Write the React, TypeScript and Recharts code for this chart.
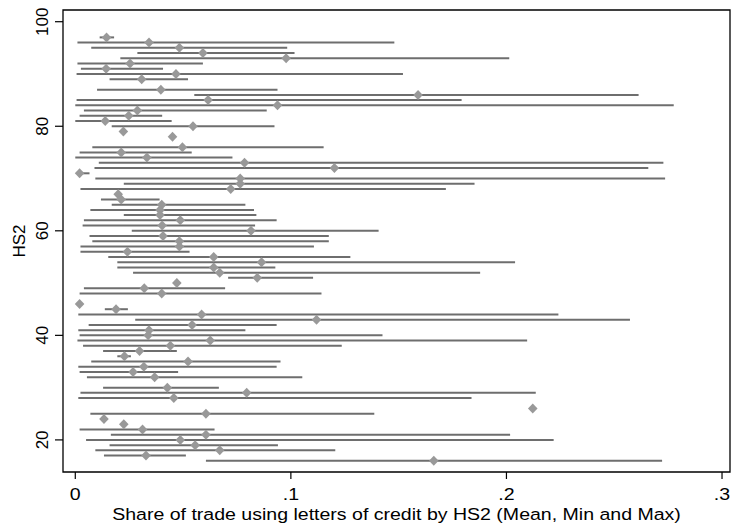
import React from 'react';
import { ScatterChart, Scatter, XAxis, YAxis, ErrorBar, ReferenceArea } from 'recharts';

// HS2 chapters shown, top to bottom (88, 77, 47, 31, 27 have no row)
const hsCodes = [
  97, 96, 95, 94, 93, 92, 91, 90, 89, 87,
  86, 85, 84, 83, 82, 81, 80, 79, 78, 76,
  75, 74, 73, 72, 71, 70, 69, 68, 67, 66,
  65, 64, 63, 62, 61, 60, 59, 58, 57, 56,
  55, 54, 53, 52, 51, 50, 49, 48, 46, 45,
  44, 43, 42, 41, 40, 39, 38, 37, 36, 35,
  34, 33, 32, 30, 29, 28, 26, 25, 24, 23,
  22, 21, 20, 19, 18, 17, 16,
];

const minShare = [
  0.0113, 0.001, 0.0074, 0.0288, 0.0209, 0.001, 0.0026, 0.0006, 0.0159, 0.0101,
  0.0552, 0.0006, 0, 0.004, 0.002, 0, 0.0169, 0.0223, 0.0451, 0.0079,
  0.002, 0, 0.0109, 0.0089, 0.002, 0.0093, 0.0225, 0.0024, 0.0199, 0.0119,
  0.0169, 0.007, 0.0225, 0.004, 0.0034, 0.0262, 0.0066, 0.0079, 0.0024, 0.0024,
  0.0153, 0.0195, 0.0195, 0.0268, 0.0709, 0.0471, 0.004, 0.002, 0.002, 0.0137,
  0.0014, 0.0278, 0.0062, 0.0014, 0.002, 0.001, 0.0036, 0.0129, 0.0195, 0.0074,
  0.0014, 0.002, 0.0054, 0.0129, 0.0024, 0.0014, 0.2122, 0.007, 0.0133, 0.0225,
  0.002, 0.0165, 0.005, 0.0159, 0.0093, 0.0133, 0.0606,
];

const meanShare = [
  0.0145, 0.0342, 0.0483, 0.0592, 0.0978, 0.0254, 0.0143, 0.0467, 0.0308, 0.0397,
  0.159, 0.0616, 0.0938, 0.0288, 0.0248, 0.0139, 0.0546, 0.0223, 0.0451, 0.0497,
  0.0213, 0.0332, 0.0785, 0.1202, 0.002, 0.0765, 0.0765, 0.0721, 0.0199, 0.0213,
  0.0401, 0.0393, 0.0393, 0.0487, 0.0403, 0.0815, 0.0407, 0.0483, 0.0483, 0.0242,
  0.0642, 0.0864, 0.0642, 0.067, 0.0844, 0.0471, 0.032, 0.0401, 0.002, 0.0189,
  0.0586, 0.1119, 0.0542, 0.0342, 0.0338, 0.0626, 0.0441, 0.0298, 0.0228, 0.0523,
  0.0318, 0.0268, 0.0368, 0.0427, 0.0795, 0.0457, 0.2122, 0.0606, 0.0133, 0.0225,
  0.0312, 0.0606, 0.0487, 0.0556, 0.067, 0.0328, 0.1663,
];

const maxShare = [
  0.018, 0.148, 0.0983, 0.1017, 0.2013, 0.0592, 0.0407, 0.152, 0.0523, 0.0938,
  0.2613, 0.1792, 0.2776, 0.0888, 0.0403, 0.0447, 0.0924, 0.0223, 0.0451, 0.1152,
  0.054, 0.0729, 0.2728, 0.2658, 0.0066, 0.2736, 0.1852, 0.1719, 0.0199, 0.0391,
  0.0789, 0.0829, 0.084, 0.0934, 0.0834, 0.1407, 0.1176, 0.1176, 0.1107, 0.053,
  0.1276, 0.204, 0.0928, 0.1878, 0.1103, 0.0471, 0.0695, 0.1142, 0.002, 0.0244,
  0.2241, 0.2573, 0.0934, 0.0789, 0.1425, 0.2096, 0.1236, 0.0471, 0.0258, 0.0952,
  0.0934, 0.0477, 0.1053, 0.0666, 0.2136, 0.1838, 0.2122, 0.1387, 0.0133, 0.0225,
  0.0646, 0.2017, 0.2219, 0.094, 0.1206, 0.0513, 0.2722,
];

const xTicks = [0, 0.1, 0.2, 0.3];
const xTickLabels = ['0', '.1', '.2', '.3'];
const yTicks = [20, 40, 60, 80, 100];

const xDomain = [-0.0057, 0.3037];
const yDomain = [13.86, 102.24];

const FONT = '"Liberation Sans", Arial, Helvetica, sans-serif';
const LINE_COLOR = '#6e6e6e';
const MARKER_COLOR = '#999999';

const data = hsCodes.map((hs, i) => ({
  hs,
  mean: meanShare[i],
  range: [meanShare[i] - minShare[i], maxShare[i] - meanShare[i]],
}));

const Diamond = (props: any) => {
  const { cx, cy } = props;
  if (cx == null || cy == null) return <g />;
  const w = 4.8;
  const h = 5;
  return (
    <polygon
      points={`${cx},${cy - h} ${cx + w},${cy} ${cx},${cy + h} ${cx - w},${cy}`}
      fill={MARKER_COLOR}
    />
  );
};

const YTick = (props: any) => {
  const { x, y, payload } = props;
  const bx = x - 5;
  return (
    <text
      x={bx}
      y={y}
      transform={`rotate(-90, ${bx}, ${y})`}
      textAnchor="middle"
      fontSize={17}
      fontFamily={FONT}
      fill="#000"
    >
      {payload.value}
    </text>
  );
};

const XTick = (props: any) => {
  const { x, y, payload } = props;
  const idx = xTicks.indexOf(payload.value);
  return (
    <text
      transform={`translate(${x}, ${y + 19}) scale(1.15, 1)`}
      textAnchor="middle"
      fontSize={17}
      fontFamily={FONT}
      fill="#000"
    >
      {idx >= 0 ? xTickLabels[idx] : payload.value}
    </text>
  );
};

const XTitle = (props: any) => {
  const vb = props.viewBox;
  return (
    <text
      transform={`translate(${vb.x + vb.width / 2}, ${vb.y + 48}) scale(1.15, 1)`}
      textAnchor="middle"
      fontSize={17}
      fontFamily={FONT}
      fill="#000"
    >
      Share of trade using letters of credit by HS2 (Mean, Min and Max)
    </text>
  );
};

const YTitle = (props: any) => {
  const vb = props.viewBox;
  const bx = vb.x + 25;
  const cy = vb.y + vb.height / 2;
  return (
    <text
      x={bx}
      y={cy}
      transform={`rotate(-90, ${bx}, ${cy})`}
      textAnchor="middle"
      fontSize={17}
      fontFamily={FONT}
      fill="#000"
    >
      HS2
    </text>
  );
};

export default function App() {
  return (
    <div style={{ position: 'absolute', left: 0, top: 0, width: 732, height: 528, background: '#fff' }}>
      <ScatterChart width={732} height={528} margin={{ top: 10, right: 2, bottom: 0, left: 0 }}>
        <XAxis
          type="number"
          dataKey="mean"
          domain={xDomain}
          allowDataOverflow
          ticks={xTicks}
          tick={<XTick />}
          tickSize={7}
          tickLine={{ stroke: '#000', strokeWidth: 1.2 }}
          axisLine={false}
          height={56}
          label={<XTitle />}
        />
        <YAxis
          type="number"
          dataKey="hs"
          domain={yDomain}
          allowDataOverflow
          ticks={yTicks}
          tick={<YTick />}
          tickSize={8}
          tickLine={{ stroke: '#000', strokeWidth: 1.2 }}
          axisLine={false}
          width={63}
          label={<YTitle />}
        />
        <ReferenceArea
          x1={xDomain[0]}
          x2={xDomain[1]}
          y1={yDomain[0]}
          y2={yDomain[1]}
          fill="none"
          stroke="#000"
          strokeWidth={1.3}
          ifOverflow="visible"
        />
        <Scatter data={data} shape={() => <g />} isAnimationActive={false}>
          <ErrorBar
            dataKey="range"
            direction="x"
            width={0}
            stroke={LINE_COLOR}
            strokeWidth={2}
            isAnimationActive={false}
          />
        </Scatter>
        <Scatter data={data} shape={<Diamond />} isAnimationActive={false} />
      </ScatterChart>
    </div>
  );
}
